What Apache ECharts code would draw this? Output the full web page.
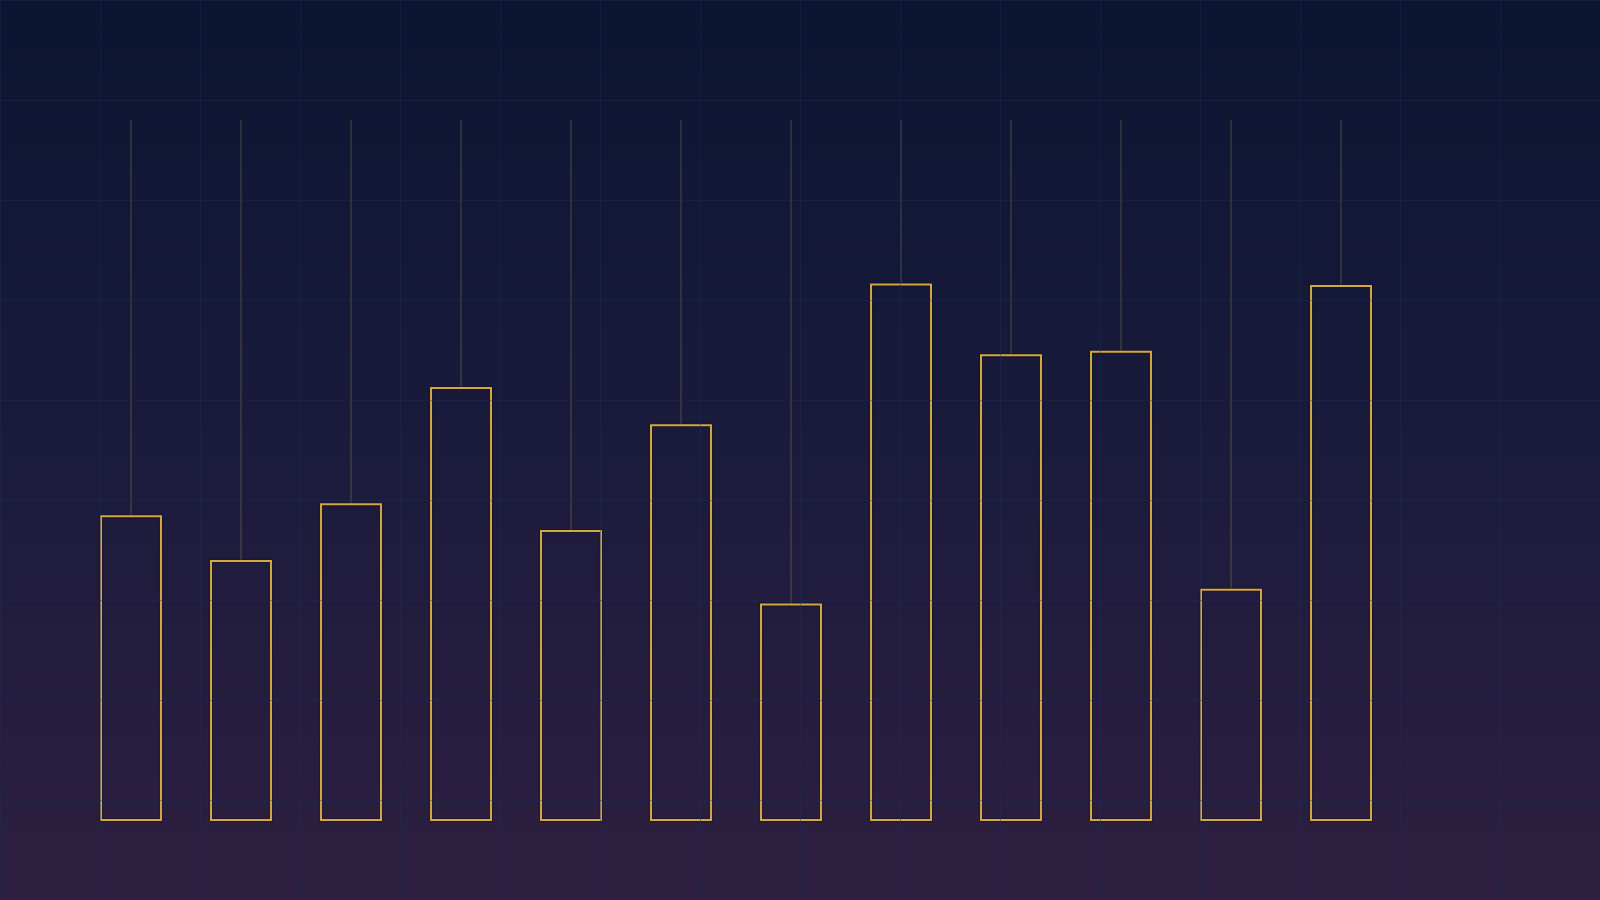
<!DOCTYPE html>
<html>
<head>
<meta charset="utf-8">
<style>
  html, body { margin: 0; padding: 0; background: #0b1530; }
  #main { width: 1600px; height: 900px; }
</style>
<script src="https://cdn.jsdelivr.net/npm/echarts@6/dist/echarts.min.js"></script>
</head>
<body>
<div id="main"></div>
<script>
// Twelve periods, hollow boxes rising from zero, thin wick up to the ceiling
var categories = ['P1', 'P2', 'P3', 'P4', 'P5', 'P6', 'P7', 'P8', 'P9', 'P10', 'P11', 'P12'];
var values = [43.4, 37.0, 45.1, 61.7, 41.3, 56.4, 30.8, 76.5, 66.4, 66.9, 32.9, 76.3];
var ceiling = [100, 100, 100, 100, 100, 100, 100, 100, 100, 100, 100, 100];

var myChart = echarts.init(document.getElementById('main'));

var seriesData = categories.map(function (c, i) {
    return [i, values[i], ceiling[i]];
});

function renderBox(params, api) {
    var idx = api.value(0);
    var top = api.coord([idx, api.value(1)]);
    var base = api.coord([idx, 0]);
    var high = api.coord([idx, api.value(2)]);
    var w = api.size([1, 0])[0] * 0.545;
    return {
        type: 'group',
        children: [
            {
                type: 'line',
                shape: { x1: top[0], y1: high[1], x2: top[0], y2: top[1] },
                style: { stroke: 'rgba(200,165,70,0.35)', lineWidth: 1 }
            },
            {
                type: 'rect',
                shape: { x: top[0] - w / 2, y: top[1], width: w, height: base[1] - top[1] },
                style: {
                    fill: 'transparent',
                    stroke: '#d3a842',
                    lineWidth: 2,
                    shadowColor: 'rgba(20,8,0,0.8)',
                    shadowBlur: 2
                }
            }
        ]
    };
}

var gridLine = { show: true, lineStyle: { color: 'rgba(30,46,88,0.42)', width: 1 } };

var option = {
    backgroundColor: {
        type: 'linear', x: 0, y: 0, x2: 0, y2: 1,
        colorStops: [
            { offset: 0, color: '#0b1530' },
            { offset: 0.5, color: '#1b1b3c' },
            { offset: 1, color: '#2e1f40' }
        ]
    },
    animation: false,
    grid: [
        { left: 76, right: 204, top: 120, bottom: 80 },
        { left: 0, right: 0, top: 0, bottom: 0 }
    ],
    xAxis: [
        { type: 'category', gridIndex: 0, data: categories, show: false },
        {
            type: 'value', gridIndex: 1, min: 0, max: 16, interval: 1, z: 10,
            axisLine: { show: false }, axisTick: { show: false }, axisLabel: { show: false },
            splitLine: gridLine
        }
    ],
    yAxis: [
        { type: 'value', gridIndex: 0, min: 0, max: 100, show: false },
        {
            type: 'value', gridIndex: 1, min: 0, max: 9, interval: 1, z: 10,
            axisLine: { show: false }, axisTick: { show: false }, axisLabel: { show: false },
            splitLine: gridLine
        }
    ],
    series: [
        {
            type: 'custom',
            xAxisIndex: 0,
            yAxisIndex: 0,
            renderItem: renderBox,
            encode: { x: 0, y: [1, 2] },
            data: seriesData
        }
    ]
};

myChart.setOption(option);
</script>
</body>
</html>
